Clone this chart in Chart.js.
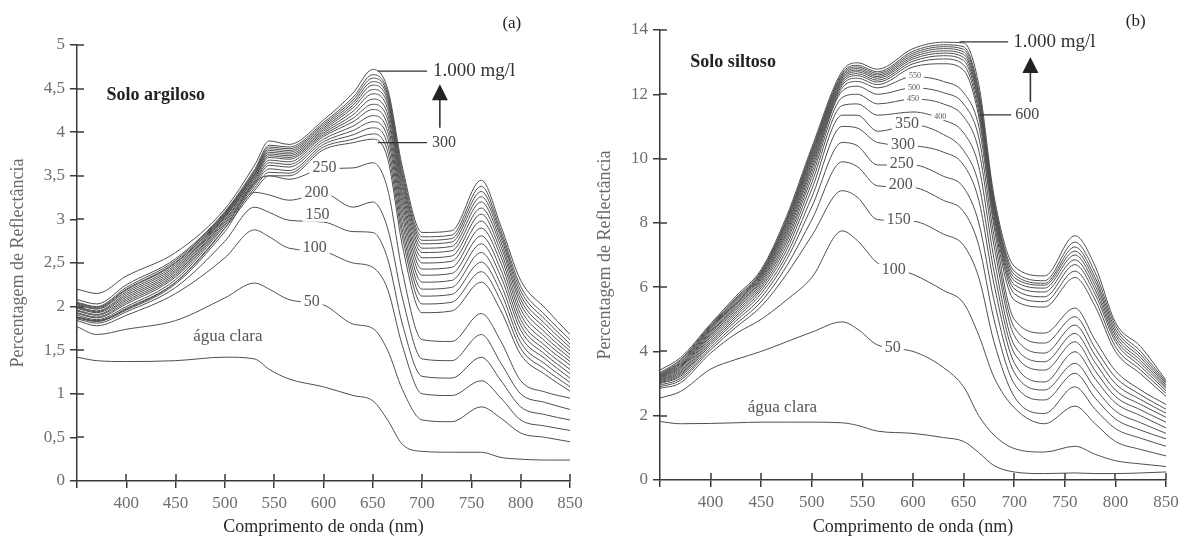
<!DOCTYPE html>
<html><head><meta charset="utf-8">
<script src="https://cdn.jsdelivr.net/npm/chart.js@4.4.1/dist/chart.umd.min.js"></script>
<style>
html,body{margin:0;padding:0;background:#fff;}
#wrap{position:relative;width:1185px;height:543px;overflow:hidden;background:#fff;}
#c1{position:absolute;left:0;top:0;}
#c2{position:absolute;left:590px;top:0;}
</style></head><body>
<div id="wrap"><canvas id="c1" width="590" height="543"></canvas><canvas id="c2" width="595" height="543"></canvas></div>
<script>
// ---------- Panel (a): Solo argiloso ----------
const wlA = [350,370,400,450,500,530,545,565,600,630,650,665,680,700,730,760,780,800,825,850];
const A_0    = [1.42,1.38,1.37,1.38,1.42,1.40,1.28,1.17,1.08,0.98,0.92,0.70,0.42,0.34,0.33,0.33,0.27,0.25,0.24,0.24];
const A_50   = [1.77,1.68,1.74,1.84,2.10,2.27,2.20,2.08,2.02,1.80,1.75,1.50,1.05,0.70,0.68,0.85,0.72,0.55,0.50,0.45];
const A_100  = [1.84,1.78,1.90,2.15,2.56,2.88,2.80,2.67,2.63,2.50,2.45,2.20,1.55,1.00,0.98,1.15,0.95,0.70,0.63,0.58];
const A_150  = [1.86,1.81,1.94,2.22,2.75,3.14,3.08,2.99,2.97,2.86,2.85,2.55,1.80,1.20,1.18,1.42,1.15,0.85,0.76,0.70];
const A_200  = [1.87,1.83,1.96,2.26,2.86,3.31,3.28,3.22,3.30,3.14,3.20,2.90,2.10,1.40,1.38,1.68,1.35,1.00,0.90,0.82];
const A_250  = [1.88,1.84,1.97,2.28,2.90,3.42,3.50,3.46,3.58,3.59,3.65,3.35,2.40,1.62,1.60,1.92,1.60,1.15,1.02,0.95];
const A_300  = [1.88,1.83,1.98,2.28,2.90,3.33,3.50,3.50,3.80,3.88,3.92,3.70,2.70,1.93,1.95,2.28,1.95,1.45,1.22,1.03];
const A_350  = [1.90,1.85,2.00,2.31,2.93,3.36,3.54,3.53,3.83,3.92,3.98,3.78,2.80,2.03,2.05,2.40,2.06,1.52,1.28,1.08];
const A_400  = [1.92,1.87,2.03,2.34,2.95,3.39,3.58,3.56,3.86,3.97,4.05,3.86,2.88,2.12,2.14,2.51,2.16,1.59,1.34,1.13];
const A_450  = [1.93,1.88,2.05,2.36,2.97,3.41,3.62,3.60,3.89,4.02,4.12,3.94,2.96,2.20,2.22,2.62,2.25,1.66,1.40,1.18];
const A_500  = [1.95,1.90,2.07,2.38,2.99,3.43,3.65,3.63,3.92,4.07,4.19,4.01,3.04,2.28,2.30,2.72,2.34,1.73,1.45,1.23];
const A_550  = [1.96,1.91,2.09,2.40,3.00,3.45,3.68,3.66,3.95,4.12,4.26,4.08,3.11,2.36,2.38,2.81,2.42,1.79,1.50,1.28];
const A_600  = [1.98,1.93,2.11,2.42,3.02,3.47,3.71,3.69,3.97,4.16,4.32,4.15,3.18,2.43,2.45,2.90,2.50,1.85,1.55,1.33];
const A_650  = [1.99,1.94,2.13,2.44,3.03,3.48,3.73,3.71,3.99,4.20,4.38,4.21,3.24,2.50,2.52,2.98,2.57,1.91,1.60,1.37];
const A_700  = [2.00,1.95,2.15,2.46,3.04,3.50,3.75,3.73,4.01,4.24,4.44,4.27,3.30,2.56,2.58,3.06,2.63,1.97,1.65,1.41];
const A_750  = [2.02,1.97,2.17,2.48,3.05,3.51,3.77,3.75,4.03,4.28,4.49,4.32,3.36,2.62,2.64,3.13,2.69,2.03,1.70,1.45];
const A_800  = [2.03,1.98,2.19,2.50,3.06,3.52,3.79,3.77,4.05,4.31,4.54,4.36,3.41,2.67,2.69,3.20,2.74,2.08,1.75,1.49];
const A_850  = [2.04,1.99,2.20,2.51,3.07,3.54,3.81,3.79,4.07,4.34,4.58,4.40,3.46,2.72,2.74,3.26,2.79,2.13,1.80,1.53];
const A_900  = [2.05,2.00,2.22,2.53,3.08,3.55,3.83,3.81,4.09,4.37,4.62,4.43,3.50,2.76,2.78,3.32,2.83,2.18,1.85,1.57];
const A_950  = [2.08,2.03,2.25,2.55,3.09,3.57,3.85,3.83,4.11,4.40,4.66,4.46,3.55,2.80,2.82,3.38,2.87,2.23,1.90,1.62];
const A_1000 = [2.20,2.15,2.35,2.62,3.12,3.62,3.90,3.86,4.14,4.45,4.72,4.50,3.60,2.85,2.87,3.45,2.92,2.30,1.98,1.68];

// ---------- Panel (b): Solo siltoso ----------
const wlB = [350,370,400,425,450,475,500,530,545,565,600,630,650,665,680,700,730,760,780,800,825,850];
const B_0    = [1.82,1.75,1.76,1.78,1.80,1.80,1.80,1.78,1.70,1.52,1.45,1.32,1.20,0.85,0.45,0.25,0.20,0.22,0.20,0.20,0.22,0.25];
const B_50   = [2.55,2.75,3.45,3.75,4.00,4.30,4.60,4.92,4.70,4.20,4.00,3.50,2.90,2.00,1.40,0.98,0.87,1.05,0.80,0.60,0.50,0.42];
const B_100  = [2.85,3.02,3.95,4.55,5.00,5.60,6.30,7.75,7.45,6.75,6.40,5.90,5.50,4.50,3.20,2.25,1.75,2.30,1.75,1.20,0.95,0.75];
const B_150  = [2.90,3.10,4.05,4.75,5.40,6.40,7.60,9.00,8.80,8.10,8.05,7.65,7.30,6.30,4.30,2.60,2.07,2.90,2.20,1.60,1.30,1.05];
const B_200  = [2.95,3.16,4.12,4.85,5.55,6.65,8.10,9.90,9.75,9.15,9.10,8.70,8.35,7.30,5.00,3.00,2.49,3.32,2.55,1.90,1.55,1.28];
const B_250  = [3.00,3.22,4.20,4.95,5.68,6.85,8.50,10.50,10.40,9.80,9.80,9.45,9.10,8.00,5.60,3.35,2.80,3.63,2.85,2.15,1.78,1.45];
const B_300  = [3.02,3.26,4.26,5.03,5.80,7.00,8.80,11.00,10.95,10.50,10.40,10.20,9.80,8.70,6.10,3.65,3.05,3.99,3.15,2.40,2.00,1.62];
const B_350  = [3.05,3.30,4.32,5.10,5.90,7.15,9.05,11.35,11.35,10.85,11.05,10.75,10.25,9.20,6.50,3.95,3.42,4.30,3.40,2.60,2.18,1.80];
const B_400  = [3.08,3.34,4.38,5.17,5.98,7.28,9.25,11.65,11.70,11.35,11.45,11.20,10.80,9.75,6.90,4.20,3.68,4.56,3.65,2.80,2.35,1.95];
const B_450  = [3.10,3.38,4.44,5.23,6.05,7.40,9.42,11.90,12.00,11.70,11.85,11.70,11.30,10.25,7.30,4.50,3.95,4.82,3.88,3.00,2.50,2.08];
const B_500  = [3.12,3.42,4.49,5.29,6.12,7.50,9.56,12.10,12.25,12.00,12.20,12.05,11.70,10.65,7.60,4.75,4.26,5.08,4.10,3.20,2.65,2.20];
const B_550  = [3.15,3.46,4.54,5.34,6.18,7.60,9.68,12.20,12.40,12.20,12.55,12.40,12.05,11.00,7.90,5.00,4.57,5.35,4.35,3.40,2.80,2.35];
const B_600  = [3.17,3.50,4.58,5.39,6.23,7.68,9.78,12.28,12.50,12.30,12.85,12.95,12.75,11.30,8.05,5.60,5.38,6.30,5.40,4.00,3.30,2.60];
const B_650  = [3.19,3.53,4.62,5.43,6.28,7.76,9.87,12.34,12.58,12.38,12.95,13.10,12.92,11.45,8.20,5.80,5.55,6.50,5.60,4.15,3.42,2.70];
const B_700  = [3.21,3.56,4.66,5.47,6.32,7.83,9.95,12.40,12.64,12.44,13.03,13.20,13.05,11.60,8.30,5.95,5.70,6.70,5.78,4.30,3.53,2.78];
const B_750  = [3.23,3.60,4.70,5.51,6.36,7.90,10.02,12.45,12.70,12.50,13.10,13.28,13.15,11.72,8.40,6.08,5.85,6.85,5.92,4.40,3.63,2.85];
const B_800  = [3.25,3.63,4.73,5.55,6.40,7.96,10.09,12.50,12.75,12.55,13.16,13.35,13.24,11.82,8.50,6.20,5.97,7.00,6.05,4.50,3.72,2.90];
const B_850  = [3.28,3.66,4.76,5.59,6.43,8.02,10.15,12.55,12.80,12.60,13.22,13.42,13.32,11.92,8.58,6.30,6.06,7.12,6.18,4.60,3.81,2.95];
const B_900  = [3.30,3.70,4.79,5.62,6.46,8.07,10.21,12.60,12.85,12.65,13.28,13.48,13.40,12.02,8.65,6.40,6.12,7.25,6.30,4.70,3.90,3.00];
const B_950  = [3.34,3.74,4.82,5.66,6.50,8.12,10.27,12.65,12.90,12.70,13.34,13.54,13.48,12.12,8.72,6.50,6.20,7.40,6.45,4.80,4.00,3.05];
const B_1000 = [3.42,3.80,4.86,5.72,6.55,8.20,10.35,12.72,12.98,12.78,13.42,13.62,13.60,12.30,8.85,6.65,6.35,7.60,6.65,4.90,4.15,3.10];

const xTicks = [400,450,500,550,600,650,700,750,800,850];
const yTicksA = [0,0.5,1,1.5,2,2.5,3,3.5,4,4.5,5];
const yTicksB = [0,2,4,6,8,10,12,14];

const seriesA = [A_0,A_50,A_100,A_150,A_200,A_250,A_300,A_350,A_400,A_450,A_500,A_550,A_600,A_650,A_700,A_750,A_800,A_850,A_900,A_950,A_1000];
const seriesB = [B_0,B_50,B_100,B_150,B_200,B_250,B_300,B_350,B_400,B_450,B_500,B_550,B_600,B_650,B_700,B_750,B_800,B_850,B_900,B_950,B_1000];

// ---------- drawing ----------
const SERIF = '"Liberation Serif","Times New Roman",serif';
const fnt = (s,b) => (b?'bold ':'') + s + 'px ' + SERIF;

const annotPlugin = {
  id:'annot',
  afterDraw(chart, args, o){
    const ctx = chart.ctx, xs = chart.scales.x, ys = chart.scales.y;
    const X = v => xs.getPixelForValue(v), Y = v => ys.getPixelForValue(v);
    ctx.save();
    ctx.strokeStyle = '#3a3a3a'; ctx.lineWidth = 1.5;
    xs.ticks.forEach(t => { if (t.value <= xs.min) return; const p = Math.round(X(t.value)); ctx.beginPath(); ctx.moveTo(p, ys.bottom); ctx.lineTo(p, ys.bottom - 7); ctx.stroke(); });
    ys.ticks.forEach(t => { if (t.value <= ys.min) return; const p = Math.round(Y(t.value)); ctx.beginPath(); ctx.moveTo(xs.left, p); ctx.lineTo(xs.left + 7, p); ctx.stroke(); });
    ctx.strokeStyle = '#333'; ctx.lineWidth = 1.3;
    (o.leaders||[]).forEach(l => { ctx.beginPath(); ctx.moveTo(X(l[0]), Y(l[1])); ctx.lineTo(X(l[2]), Y(l[3])); ctx.stroke(); });
    if (o.arrow) {
      const a = o.arrow, px = X(a.x), pb = Y(a.base), pt = Y(a.tip);
      ctx.lineWidth = 1.6;
      ctx.beginPath(); ctx.moveTo(px, pb); ctx.lineTo(px, pt + 12); ctx.stroke();
      ctx.fillStyle = '#222'; ctx.beginPath(); ctx.moveTo(px, pt); ctx.lineTo(px - 8, pt + 16); ctx.lineTo(px + 8, pt + 16); ctx.closePath(); ctx.fill();
    }
    (o.labels||[]).forEach(l => {
      ctx.font = fnt(l.s, l.b);
      const w = ctx.measureText(l.t).width;
      const px = X(l.x), py = Y(l.y);
      const left = l.a === 'left' ? px : px - w/2;
      if (l.bg) { ctx.fillStyle = '#fff'; ctx.fillRect(left - 3, py - l.s*0.42, w + 6, l.s*0.84); }
      ctx.fillStyle = l.c || '#555';
      ctx.textAlign = 'left'; ctx.textBaseline = 'middle';
      ctx.fillText(l.t, left, py);
    });
    ctx.restore();
  }
};

function makeChart(id, wl, series, cfg){
  const datasets = series.map(arr => ({
    data: wl.map((w,i) => ({x:w, y:arr[i]})),
    borderColor:'#4e4e4e', borderWidth:1, pointRadius:0, fill:false,
    cubicInterpolationMode:'monotone'
  }));
  return new Chart(document.getElementById(id), {
    type:'line',
    data:{datasets},
    plugins:[annotPlugin],
    options:{
      responsive:false, animation:false, devicePixelRatio:1,
      layout:{padding:{top:cfg.top, right:cfg.right, left:0, bottom:0}},
      plugins:{legend:{display:false}, tooltip:{enabled:false}, annot:cfg.annot},
      scales:{
        x:{type:'linear', min:350, max:850,
          afterBuildTicks: s => { s.ticks = [350].concat(xTicks).map(v => ({value:v})); },
          afterFit: s => { s.height = cfg.xh; },
          border:{display:true, color:'#3a3a3a', width:1.5},
          grid:{drawOnChartArea:false, drawTicks:true, tickLength:7, color:'#3a3a3a', lineWidth:1.5},
          ticks:{autoSkip:false, maxRotation:0, padding:5, color:'#6e6e6e', font:{family:SERIF, size:17},
            callback: v => v === 350 ? '' : String(v)},
          title:{display:true, text:'Comprimento de onda (nm)', color:'#2a2a2a', font:{family:SERIF, size:18}, padding:{top:0,bottom:5}}
        },
        y:{type:'linear', min:0, max:cfg.ymax,
          afterBuildTicks: s => { s.ticks = cfg.yt.map(v => ({value:v})); },
          afterFit: s => { s.width = cfg.yw; },
          border:{display:true, color:'#3a3a3a', width:1.5},
          grid:{drawOnChartArea:false, drawTicks:true, tickLength:7, color:'#3a3a3a', lineWidth:1.5},
          ticks:{autoSkip:false, padding:5, color:'#6e6e6e', font:{family:SERIF, size:17},
            callback: v => String(v).replace('.', ',')},
          title:{display:true, text:'Percentagem de Reflectância', color:'#6a6a6a', font:{family:SERIF, size:18}, padding:{top:cfg.ytp, bottom:0}}
        }
      }
    }
  });
}

makeChart('c1', wlA, seriesA, {
  top:45, right:20, xh:62, yw:77, ymax:5, yt:yTicksA, ytp:7,
  annot:{
    leaders:[[655,4.70,705,4.70],[655,3.88,705,3.88]],
    arrow:{x:718, base:4.05, tip:4.55},
    labels:[
      {t:'1.000 mg/l', x:711, y:4.70, s:19, a:'left', c:'#333'},
      {t:'300', x:710, y:3.88, s:16, a:'left', c:'#444'},
      {t:'250', x:601, y:3.59, s:16, bg:true},
      {t:'200', x:593, y:3.30, s:16, bg:true},
      {t:'150', x:594, y:3.05, s:16, bg:true},
      {t:'100', x:591, y:2.67, s:16, bg:true},
      {t:'50',  x:588, y:2.05, s:16, bg:true},
      {t:'água clara', x:503, y:1.66, s:17, c:'#555'},
      {t:'Solo argiloso', x:380, y:4.42, s:18, b:true, a:'left', c:'#222'},
      {t:'(a)', x:791, y:5.25, s:17, c:'#222'}
    ]
  }
});

makeChart('c2', wlB, seriesB, {
  top:30, right:19, xh:63, yw:70, ymax:14, yt:yTicksB, ytp:4,
  annot:{
    leaders:[[646,13.63,694,13.63],[666,11.36,697,11.36]],
    arrow:{x:716, base:11.76, tip:13.16},
    labels:[
      {t:'1.000 mg/l', x:699, y:13.63, s:19, a:'left', c:'#333'},
      {t:'600', x:701, y:11.36, s:16, a:'left', c:'#444'},
      {t:'550', x:602, y:12.57, s:8, bg:true},
      {t:'500', x:601, y:12.20, s:8, bg:true},
      {t:'450', x:600, y:11.85, s:8, bg:true},
      {t:'400', x:627, y:11.30, s:8, bg:true},
      {t:'350', x:594, y:11.08, s:16, bg:true},
      {t:'300', x:590, y:10.42, s:16, bg:true},
      {t:'250', x:589, y:9.83, s:16, bg:true},
      {t:'200', x:588, y:9.18, s:16, bg:true},
      {t:'150', x:586, y:8.09, s:16, bg:true},
      {t:'100', x:581, y:6.53, s:16, bg:true},
      {t:'50',  x:580, y:4.10, s:16, bg:true},
      {t:'água clara', x:471, y:2.24, s:17, c:'#555'},
      {t:'Solo siltoso', x:380, y:13.0, s:18, b:true, a:'left', c:'#222'},
      {t:'(b)', x:820, y:14.25, s:17, c:'#222'}
    ]
  }
});
</script>
</body></html>
